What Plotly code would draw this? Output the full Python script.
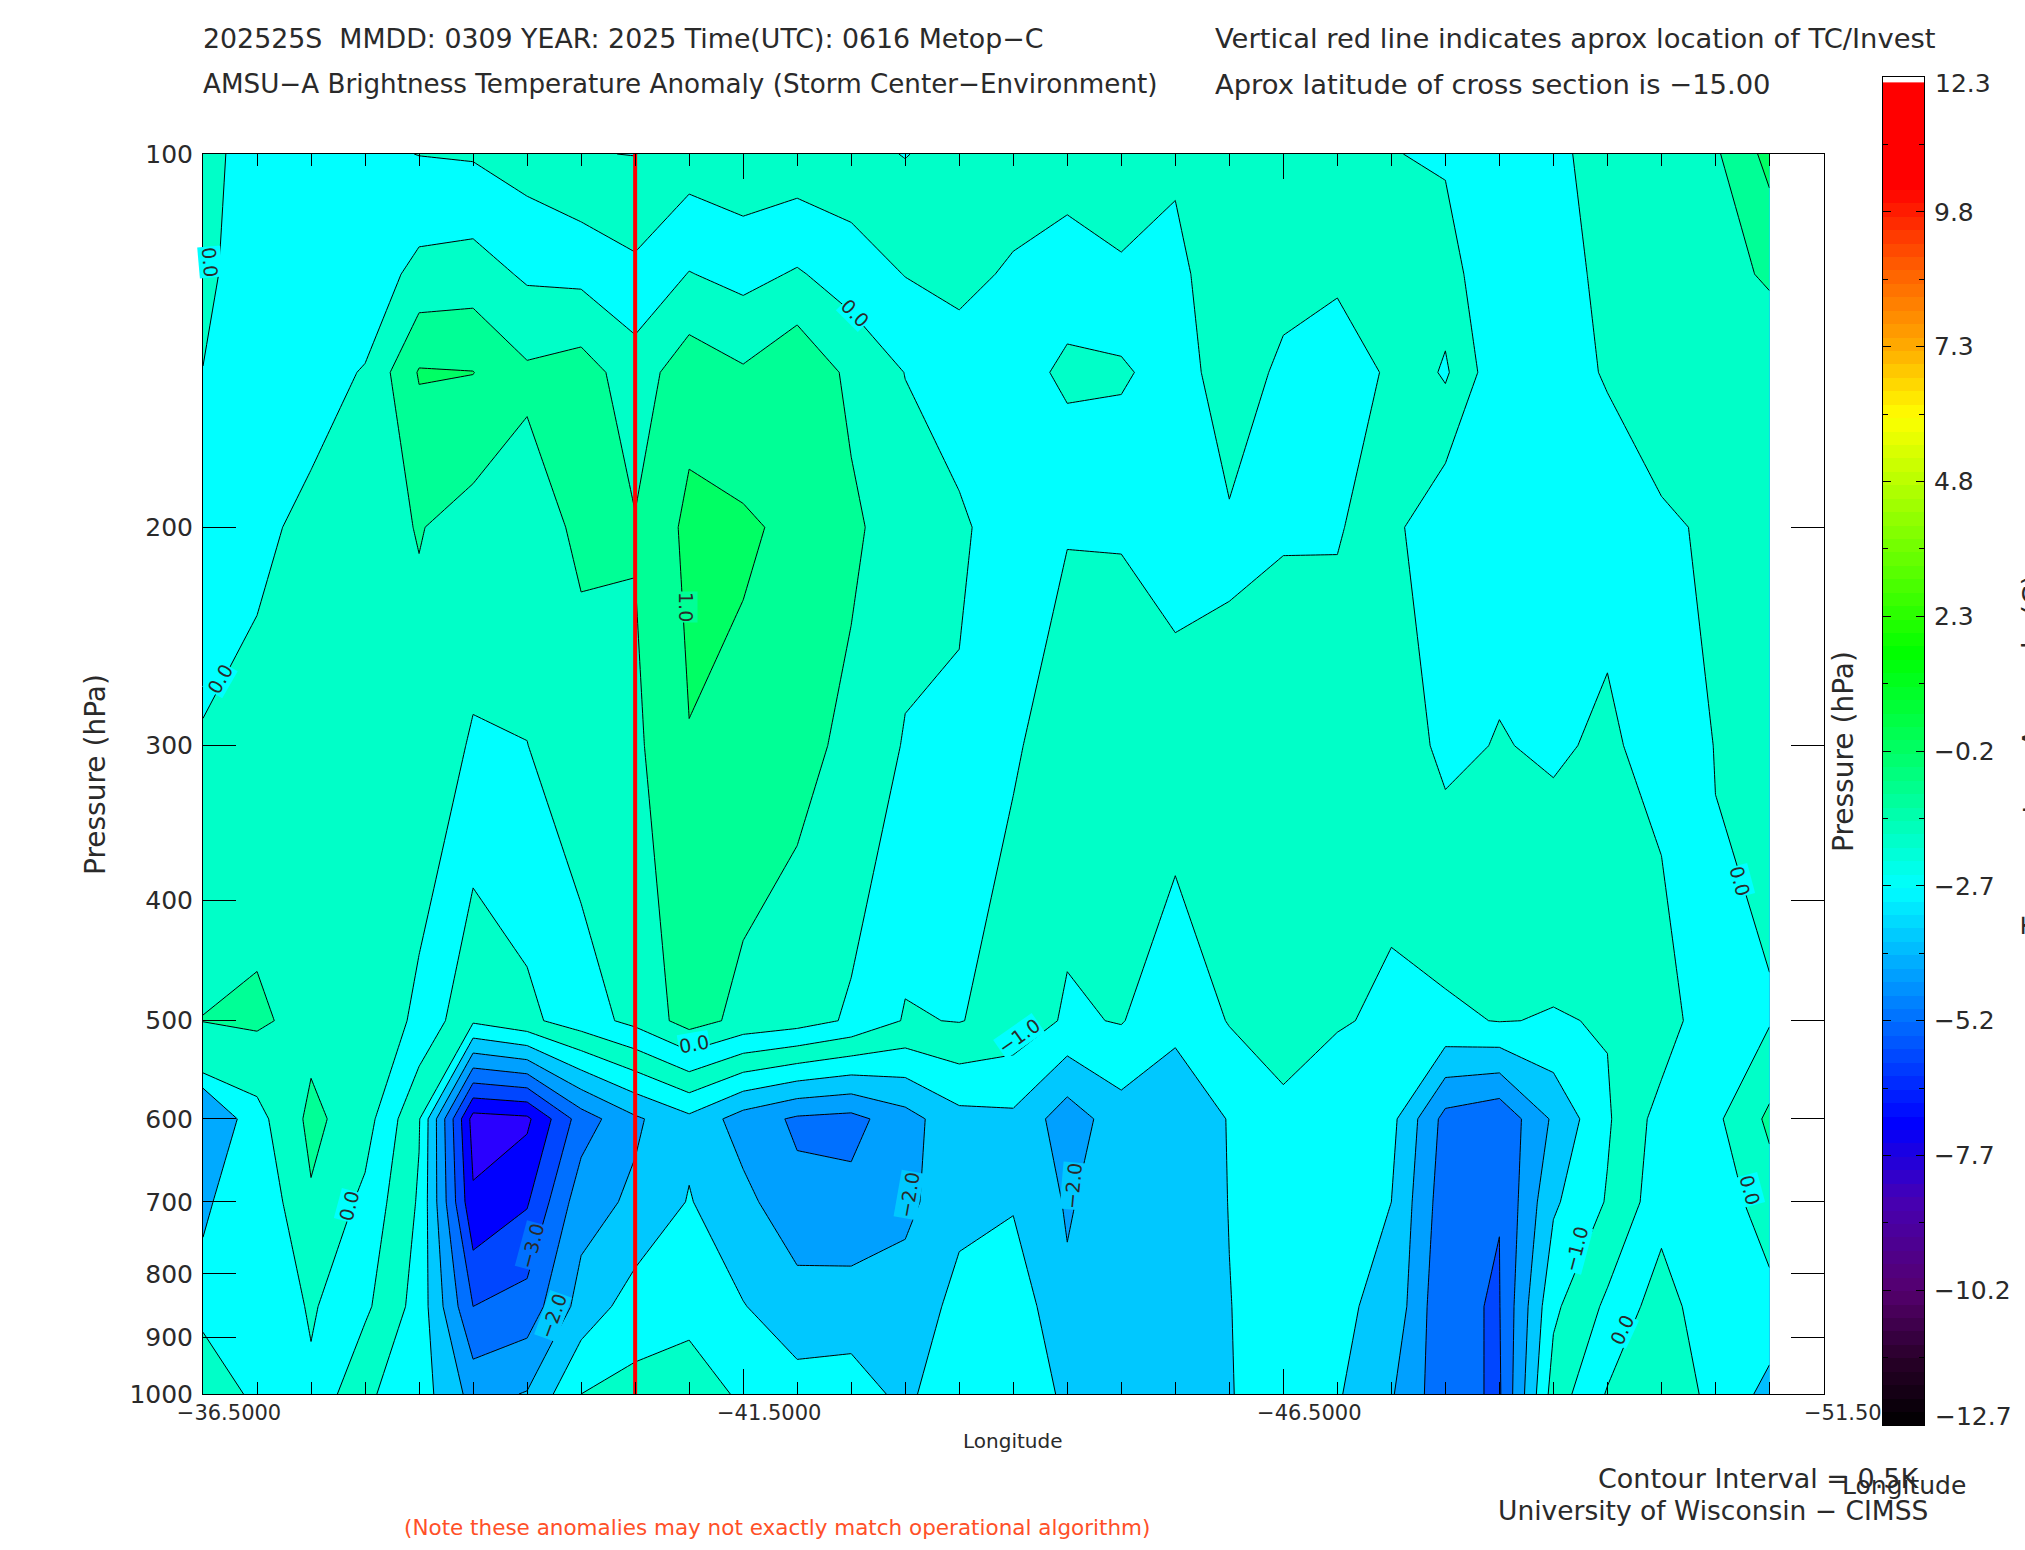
import numpy as np
import plotly.graph_objects as go

W, H = 2025, 1550
LONGITUDE = [-36.5 - 0.5 * i for i in range(30)]
PRESSURE = [100, 125, 150, 200, 300, 500, 600, 700, 850, 1000]
TC_LON = -40.5

T100 = [.30,-.41,-.40,-.40,-.51,-.55,-.73,-.98,-1.01,-.76,-.87,-.82,-.85,-1.02,-.80,-.67,-.71,-.90,-.56,-.70,-.93,-.91,-.52,-.43,-.30,-.25,.45,.30,.43,1.16]
T125 = [.145,-.355,-.285,-.30,.15,.23,-.075,-.13,-.385,.02,-.155,.05,-.235,-.515,-.58,-.46,-.295,-.41,-.405,-.735,-.665,-.58,-.545,-.75,-.02,-.25,.15,.25,.25,.595]
T150 = [-.01,-.30,-.17,.03,1.04,1.01,.58,.72,.24,.80,.56,.92,.38,-.01,-.36,-.25,.12,.08,-.25,-.77,-.40,-.25,-.57,-1.07,-.12,-.25,.05,.20,.30,.03]
T200 = [-.21,-.09,.10,.30,.525,.30,.30,.58,.53,1.12,1.08,.88,.60,.215,.11,-.35,-.48,-.48,-.36,-.44,-.49,-.48,-.63,-.10,-.30,-.13,-.33,-.05,.05,.30]
T300 = [.03,.133,.177,.317,.317,-.05,-.007,.31,.40,.983,.84,.66,.377,-.037,-.087,-.46,-.677,-.643,-.65,-.617,-.567,-.64,-.78,-.39,-.527,-.43,-.585,-.30,.013,.187]
T500 = [.51,.58,.33,.35,-.10,-.92,-.62,-.23,.14,.71,.36,.22,-.07,-.54,-.48,-.68,-1.07,-.97,-1.39,-.97,-.72,-.96,-1.08,-1.08,-.98,-1.03,-.97,-.80,-.06,-.04]
T600 = [-.45,-.17,.62,.22,-.96,-4.2,-4.1,-2.76,-2.08,-1.62,-2.23,-2.58,-2.66,-2.2,-1.66,-1.6,-2.27,-1.72,-1.79,-1.48,-1.15,-1.3,-1.36,-2.67,-2.9,-1.92,-1.06,-.3,-.1,.6]
T700 = [-.3,-.41,.45,-.12,-1.06,-3.93,-3.55,-2.2,-1.91,-1.47,-1.85,-2.37,-2.35,-2.15,-1.6,-1.55,-2.05,-1.72,-1.8,-1.49,-1.25,-1.35,-1.5,-2.8,-2.99,-1.58,-.96,-.2,-.3,.27]
T850 = [-.15,-.45,.06,-.4,-1.2,-3.0,-2.8,-1.81,-1.26,-1.2,-1.48,-1.76,-1.78,-1.73,-1.39,-1.17,-1.92,-1.75,-1.8,-1.51,-1.3,-1.42,-1.62,-2.95,-3.02,-1.1,-.4,.25,-.4,-.16]
T1000 = [.36,-.12,-.09,-.93,-1.25,-2.17,-1.97,-1.0,-.85,-.68,-1.1,-1.33,-1.26,-1.63,-1.06,-1.1,-1.61,-1.75,-1.8,-1.52,-1.3,-1.45,-1.95,-2.85,-3.06,-.78,.04,.30,-.13,-.35]

# the two small patches whose fill in the reference does not follow the main field
PATCH_W_LON = [-36.5, -37.0]
PATCH_W_P = [500, 600, 700, 850]
PATCH_W_Z = [[-2.2, -3], [1, -.575], [.5, -2.2], [-.98, -3]]
PATCH_E_LON = [-50.5, -51.0]
PATCH_E_P = [850, 1000]
PATCH_E_Z = [[-3, -2], [-2.45, 1]]

BAND_COLORS = ["#2A00FF", "#0000FF", "#0046FF", "#0070FF", "#00A0FF", "#00C8FF",
               "#00FFFF", "#00FFC8", "#00FFFF", "#00FFC8", "#00FF96", "#00FF64"]

X_MAJOR = [-36.5, -41.5, -46.5, -51.5]
X_LABELS = ["\u221236.5000", "\u221241.5000", "\u221246.5000", "\u221251.500"]
X_MINOR = [-36.5 - 0.5 * i for i in range(31)]
Y_TICKS = [100, 200, 300, 400, 500, 600, 700, 800, 900, 1000]

BAR_TICKS = [-12.7, -10.2, -7.7, -5.2, -2.7, -0.2, 2.3, 4.8, 7.3, 9.8, 12.3]
BAR_LABELS = ["", "\u221210.2", "\u22127.7", "\u22125.2", "\u22122.7", "\u22120.2", "2.3", "4.8", "7.3", "9.8", ""]
BAR_MINOR = [-12.7 + 1.25 * i for i in range(21)]
BAR_STOPS = [(-12.7, "#000000"), (-11.5, "#280028"), (-10.2, "#55006E"), (-8.5, "#4600B4"),
             (-7.1, "#0000FF"), (-5.2, "#006EFF"), (-2.73, "#00FFFF"), (-0.2, "#00FF64"),
             (1.6, "#00FF00"), (6.0, "#FFFF00"), (7.3, "#FFAA00"), (9.0, "#FF5000"),
             (10.26, "#FF0000"), (12.3, "#FF0000")]

INK = "#2a2a2a"
FONT = "DejaVu Sans"

fig = go.Figure()
fig.add_trace(go.Contour(
    x=LONGITUDE, y=PRESSURE, z=[T100, T125, T150, T200, T300, T500, T600, T700, T850, T1000],
    autocontour=False, contours=dict(start=-4, end=1, size=0.5, coloring="fill", showlines=True),
    colorscale=[[k / 11, c] for k, c in enumerate(BAND_COLORS)],
    line=dict(color="black", width=1, smoothing=0), showscale=False, hoverinfo="skip"))
for lon, p, z, col in [(PATCH_W_LON, PATCH_W_P, PATCH_W_Z, "#00AAFF"), (PATCH_E_LON, PATCH_E_P, PATCH_E_Z, "#00BEFF")]:
    fig.add_trace(go.Contour(
        x=lon, y=p, z=z, autocontour=False,
        contours=dict(start=0, end=0, size=1, coloring="fill", showlines=True),
        colorscale=[[0, "rgba(255,255,255,0)"], [1, col]],
        line=dict(color="black", width=1, smoothing=0), showscale=False, hoverinfo="skip"))
fig.add_trace(go.Scatter(x=[TC_LON, TC_LON], y=[100, 1000], mode="lines",
                         line=dict(color="#FF0000", width=4), hoverinfo="skip", showlegend=False))

bar_edges = np.linspace(-12.7, 12.2, 101)
bar_mid = (bar_edges[:-1] + bar_edges[1:]) / 2
fig.add_trace(go.Heatmap(
    x=[0, 1], y=bar_edges, z=[[v] for v in bar_mid], xaxis="x2", yaxis="y2",
    zmin=-12.7, zmax=12.3, showscale=False, hoverinfo="skip",
    colorscale=[[(v + 12.7) / 25, c] for v, c in BAR_STOPS]))

tick_font = dict(family=FONT, size=25, color=INK)
fig.update_layout(
    template="none",
    width=W, height=H, autosize=False, margin=dict(l=0, r=0, t=0, b=0, autoexpand=False),
    paper_bgcolor="white", plot_bgcolor="white", showlegend=False,
    xaxis=dict(domain=[203 / W, 1823.5 / W], range=[-36.5, -51.5], anchor="y", automargin=False,
               showgrid=False, zeroline=False, showline=True, linecolor="black", linewidth=1, mirror="ticks",
               tickmode="array", tickvals=X_MAJOR, ticktext=X_LABELS, ticks="inside", ticklen=25,
               tickcolor="black", tickwidth=1,
               minor=dict(tickmode="array", tickvals=X_MINOR, ticks="inside", ticklen=12, tickcolor="black", tickwidth=1, showgrid=False),
               tickfont=dict(family=FONT, size=21, color=INK), ticklabelshift=-26, ticklabelstandoff=0),
    yaxis=dict(domain=[(H - 1394) / H, (H - 154) / H], type="log", range=[3, 2], anchor="x", automargin=False,
               showgrid=False, zeroline=False, showline=True, linecolor="black", linewidth=1, mirror="ticks",
               tickmode="array", tickvals=Y_TICKS, ticktext=[str(v) for v in Y_TICKS], ticks="inside", ticklen=33,
               tickcolor="black", tickwidth=1, tickfont=tick_font, ticklabelstandoff=4),
    xaxis2=dict(domain=[1883 / W, 1924 / W], range=[0, 1], anchor="y2", showticklabels=False, ticks="", automargin=False,
                showgrid=False, zeroline=False, showline=True, linecolor="black", linewidth=1, mirror=True),
    yaxis2=dict(domain=[(H - 1425) / H, (H - 77) / H], range=[-12.7, 12.3], anchor="x2", side="right", automargin=False,
                showgrid=False, zeroline=False, showline=True, linecolor="black", linewidth=1, mirror="ticks",
                tickmode="array", tickvals=BAR_TICKS, ticktext=BAR_LABELS,
                ticks="inside", ticklen=8, tickcolor="black", tickwidth=1,
                minor=dict(tickmode="array", tickvals=BAR_MINOR, ticks="inside", ticklen=5, tickcolor="black", tickwidth=1, showgrid=False),
                tickfont=tick_font, ticklabelstandoff=4),
)


def text(s, x, y, size=25, color=INK, anchor="left", angle=0, bg=None):
    fig.add_annotation(text=s, x=x / W, y=1 - y / H, xref="paper", yref="paper", showarrow=False,
                       xanchor=anchor, yanchor="middle", textangle=angle, bgcolor=bg, borderpad=0,
                       font=dict(family=FONT, size=size, color=color))


NB = "\u00a0"
text(f"202525S{NB}{NB}MMDD:{NB}0309{NB}YEAR:{NB}2025{NB}Time(UTC):{NB}0616{NB}Metop\u2212C", 202, 38, size=26.8)
text("AMSU\u2212A Brightness Temperature Anomaly (Storm Center\u2212Environment)", 202, 84, size=26.2)
text("Vertical red line indicates aprox location of TC/Invest", 1214, 38, size=27.4)
text("Aprox latitude of cross section is \u221215.00", 1214, 84, size=27.4)
text("Pressure (hPa)", 95, 775, size=28, anchor="center", angle=-90)
text("Pressure (hPa)", 1844, 752, size=28, anchor="center", angle=-90)
text("Longitude", 1012, 1441, size=20, anchor="center")
text("Longitude", 1904, 1485, size=25, anchor="center")
text("Contour Interval = 0.5K", 1921, 1478, size=27, anchor="right")
text("University of Wisconsin \u2212 CIMSS", 1929, 1510, size=26.5, anchor="right")
text("(Note these anomalies may not exactly match operational algorithm)", 777, 1527, size=21.5, color="#FF5028", anchor="center")
text("Temperature Anomaly (C)", 2033, 755, size=28, anchor="center", angle=-90)
text("12.3", 1934, 83)
text("\u221212.7", 1934, 1416)

CONTOUR_LABELS = [("0.0", 210, 262, 85, "#00FFFF"), ("0.0", 220, 679, -60, "#00FFFF"), ("0.0", 855, 313, 45, "#00FFFF"),
                  ("1.0", 686, 607, 90, "#00FF96"), ("0.0", 1740, 881, 75, "#00FFFF"), ("0.0", 694, 1044, -10, "#00FFFF"),
                  ("\u22121.0", 1019, 1036, -35, "#00FFFF"), ("0.0", 349, 1206, -75, "#00FFFF"), ("\u22123.0", 532, 1246, -75, "#0070FF"),
                  ("\u22122.0", 553, 1316, -70, "#00C8FF"), ("\u22122.0", 909, 1195, -80, "#00C8FF"), ("\u22122.0", 1073, 1186, -85, "#00C8FF"),
                  ("\u22121.0", 1576, 1249, -75, "#00FFFF"), ("0.0", 1622, 1330, -65, "#00FFFF"), ("0.0", 1750, 1190, 75, "#00FFFF")]
for s, x, y, a, bg in CONTOUR_LABELS:
    text(s, x, y, size=19, anchor="center", angle=a, bg=bg)

fig.write_html("out.html", config=dict(displayModeBar=False),
               post_script="document.body.style.margin='0';document.body.style.overflow='hidden';")
